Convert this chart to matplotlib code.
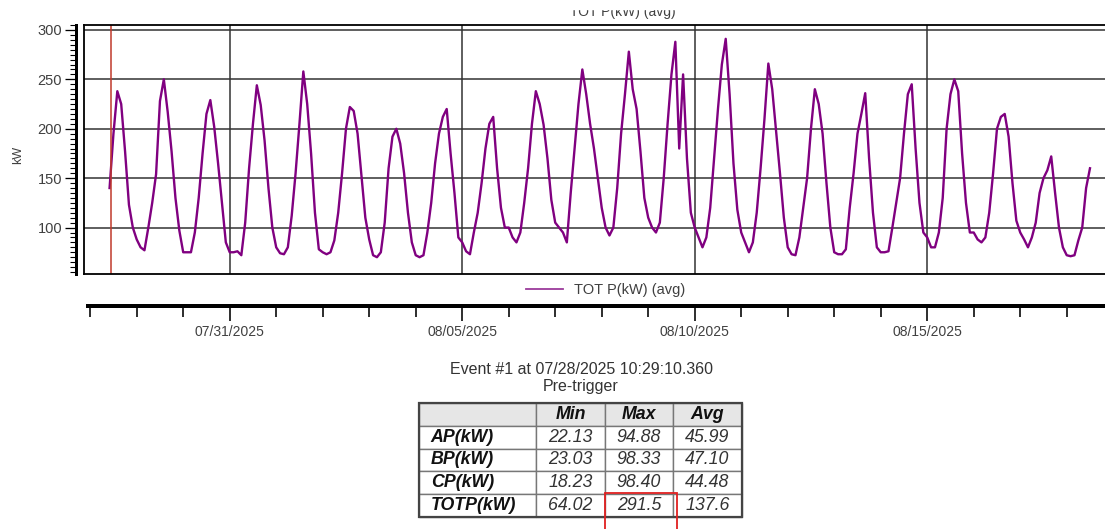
import numpy as np
import pandas as pd
import matplotlib
matplotlib.use('Agg')
import matplotlib.pyplot as plt
import matplotlib.dates as mdates
import matplotlib.ticker as ticker
from matplotlib.patches import Rectangle
from matplotlib.lines import Line2D

plt.rcParams['font.family'] = ['Liberation Sans', 'DejaVu Sans']

W, H = 1105, 529
nan = np.nan

# TOT P(kW) (avg), read every 2 hours (00:00 ... 22:00) for each day
hours_of_day = [0, 2, 4, 6, 8, 10, 12, 14, 16, 18, 20, 22]
first_day = '2025-07-28'
jul28 = [nan, nan, nan, nan, nan, 140, 195, 238, 225, 177, 123, 100]
jul29 = [88, 80, 77, 100, 125, 154, 228, 250, 217, 177, 130, 97]
jul30 = [75, 75, 75, 95, 130, 175, 215, 229, 202, 165, 125, 85]
jul31 = [75, 75, 76, 72, 105, 160, 205, 244, 224, 188, 140, 100]
aug01 = [80, 74, 73, 80, 112, 155, 205, 258, 225, 175, 115, 78]
aug02 = [75, 73, 75, 87, 115, 155, 200, 222, 218, 195, 152, 110]
aug03 = [88, 72, 70, 75, 105, 160, 192, 200, 185, 155, 115, 85]
aug04 = [72, 70, 72, 95, 125, 165, 195, 212, 220, 175, 135, 90]
aug05 = [85, 76, 73, 95, 115, 145, 180, 205, 212, 160, 120, 100]
aug06 = [100, 90, 85, 95, 125, 160, 205, 238, 225, 204, 170, 128]
aug07 = [105, 100, 95, 85, 135, 180, 225, 260, 235, 205, 180, 150]
aug08 = [120, 100, 92, 100, 140, 195, 235, 278, 240, 220, 177, 130]
aug09 = [110, 100, 95, 105, 150, 205, 255, 288, 180, 255, 170, 115]
aug10 = [100, 90, 80, 90, 120, 170, 220, 265, 291, 235, 165, 118]
aug11 = [95, 85, 75, 85, 115, 160, 210, 266, 240, 198, 155, 110]
aug12 = [80, 73, 72, 90, 120, 150, 200, 240, 225, 195, 145, 100]
aug13 = [75, 73, 73, 78, 120, 155, 195, 215, 236, 170, 115, 80]
aug14 = [75, 75, 76, 100, 125, 150, 195, 235, 245, 180, 125, 95]
aug15 = [90, 80, 80, 95, 130, 200, 235, 250, 238, 175, 125, 95]
aug16 = [95, 88, 85, 90, 115, 155, 200, 212, 215, 192, 145, 107]
aug17 = [95, 88, 80, 90, 105, 135, 150, 158, 172, 135, 100, 80]
aug18 = [72, 71, 72, 87, 100, 140, 160, nan, nan, nan, nan, nan]
days = [jul28, jul29, jul30, jul31, aug01, aug02, aug03, aug04, aug05, aug06, aug07,
        aug08, aug09, aug10, aug11, aug12, aug13, aug14, aug15, aug16, aug17, aug18]

event_time = '2025-07-28 10:29:10.360'
label_dates = ['2025-07-31', '2025-08-05', '2025-08-10', '2025-08-15']

# pre-trigger table
row_labels = ['AP(kW)', 'BP(kW)', 'CP(kW)', 'TOTP(kW)']
col_labels = ['Min', 'Max', 'Avg']
min_vals = ['22.13', '23.03', '18.23', '64.02']
max_vals = ['94.88', '98.33', '98.40', '291.5']
avg_vals = ['45.99', '47.10', '44.48', '137.6']

times, values = [], []
base = pd.Timestamp(first_day)
for i, day in enumerate(days):
    for h, v in zip(hours_of_day, day):
        if not np.isnan(v):
            times.append(base + pd.Timedelta(days=i, hours=h))
            values.append(v)

xlim = (pd.Timestamp('2025-07-27 20:48'), pd.Timestamp('2025-08-18 22:20'))
ylim = (53, 305)
text_col = '#404040'
PT = 0.72  # points per pixel at dpi 100

fig = plt.figure(figsize=(W / 100, H / 100), dpi=100)


def box(x0, y0, x1, y1):
    return [x0 / W, 1 - y1 / H, (x1 - x0) / W, (y1 - y0) / H]


# main plot area
ax = fig.add_axes(box(84, 25, 1110, 274))
ax.plot(times, values, color='#800080', lw=1.7)
ax.axvline(pd.Timestamp(event_time), color='#c0392b', lw=1.1)
ax.set_xlim(*xlim)
ax.set_ylim(*ylim)
ax.set_xticks([pd.Timestamp(d) for d in label_dates])
ax.set_yticks(range(100, 301, 50))
ax.grid(True, color='#333333', lw=1.1)
ax.tick_params(length=0, labelbottom=False, labelleft=False)
for s in ['top', 'left', 'bottom']:
    ax.spines[s].set_linewidth(1.3)
ax.spines['right'].set_visible(False)

# detached y axis
yax = fig.add_axes(box(76, 25, 76.1, 274))
yax.set_ylim(*ylim)
yax.set_xticks([])
for s in ['top', 'right', 'bottom']:
    yax.spines[s].set_visible(False)
yax.spines['left'].set_linewidth(3 * PT)
yax.yaxis.set_major_locator(ticker.MultipleLocator(50))
yax.yaxis.set_minor_locator(ticker.MultipleLocator(5))
yax.tick_params(which='major', length=11 * PT, width=1.3 * PT, labelsize=10.5,
                labelcolor=text_col, pad=2)
yax.tick_params(which='minor', length=6 * PT, width=1.1 * PT)
yax.patch.set_visible(False)
fig.text(18 / W, 1 - 155 / H, 'kW', rotation=90, ha='center', va='center',
         fontsize=9, color=text_col)

# detached time axis
bx = fig.add_axes(box(88, 306, 1110, 306.1))
bx.set_xlim(pd.Timestamp('2025-07-27 22:52'), xlim[1])
bx.set_yticks([])
for s in ['top', 'right', 'left']:
    bx.spines[s].set_visible(False)
bx.spines['bottom'].set_linewidth(4 * PT)
bx.xaxis.set_major_locator(ticker.FixedLocator(
    [mdates.date2num(pd.Timestamp(d)) for d in label_dates]))
bx.xaxis.set_major_formatter(mdates.DateFormatter('%m/%d/%Y'))
bx.xaxis.set_minor_locator(mdates.DayLocator())
bx.tick_params(which='major', length=15 * PT, width=1.6 * PT, labelsize=10,
               labelcolor=text_col, pad=3)
bx.tick_params(which='minor', length=11 * PT, width=1.6 * PT)
bx.patch.set_visible(False)

# legend
fig.legend([Line2D([], [], color='#9b3c9b', lw=1.3)], ['TOT P(kW) (avg)'],
           loc='center', bbox_to_anchor=(606 / W, 1 - 290 / H), frameon=False,
           fontsize=10.5, handlelength=2.5, labelcolor=text_col)

# clipped chart title at the very top
fig.text(623 / W, 1 - 16 / H, 'TOT P(kW) (avg)', ha='center', va='baseline',
         fontsize=10, color=text_col)
fig.add_artist(Rectangle((0, 1 - 9 / H), 1, 9 / H, transform=fig.transFigure,
                         color='white', zorder=10))

# event summary
fig.text(581 / W, 1 - 369 / H, 'Event #1 at 07/28/2025 10:29:10.360',
         ha='center', va='center', fontsize=11.5, color='#333333')
fig.text(581 / W, 1 - 386 / H, 'Pre-trigger', ha='center', va='center',
         fontsize=11.5, color='#333333')

tx = fig.add_axes(box(419, 403, 742, 517))
tx.axis('off')
cells = [[''] + col_labels]
for r, a, b, c in zip(row_labels, min_vals, max_vals, avg_vals):
    cells.append([r, a, b, c])
widths = np.array([117, 69, 68, 69]) / 323
tbl = tx.table(cellText=cells, colWidths=list(widths), cellLoc='center',
               bbox=[0, 0, 1, 1])
tbl.auto_set_font_size(False)
for (r, c), cell in tbl.get_celld().items():
    cell.set_edgecolor('#777777')
    cell.set_linewidth(1.0)
    txt = cell.get_text()
    txt.set_fontsize(12.8)
    txt.set_fontstyle('italic')
    txt.set_color('#333333')
    if r == 0:
        cell.set_facecolor('#e6e6e6')
        txt.set_fontweight('bold')
        txt.set_color('#111111')
    if c == 0:
        txt.set_fontweight('bold')
        txt.set_color('#111111')
        txt.set_horizontalalignment('left')
        cell._loc = 'left'
tx.add_patch(Rectangle((0, 0), 1, 1, transform=tx.transAxes, fill=False,
                       edgecolor='#444444', lw=1.6, clip_on=False))

# highlight of the TOTP max cell
fig.add_artist(Rectangle((605 / W, -0.02), 72 / W, 0.02 + (529 - 493) / H,
                         transform=fig.transFigure, fill=False,
                         edgecolor='#e02020', lw=1.3))

fig.savefig('out.png', dpi=100)
